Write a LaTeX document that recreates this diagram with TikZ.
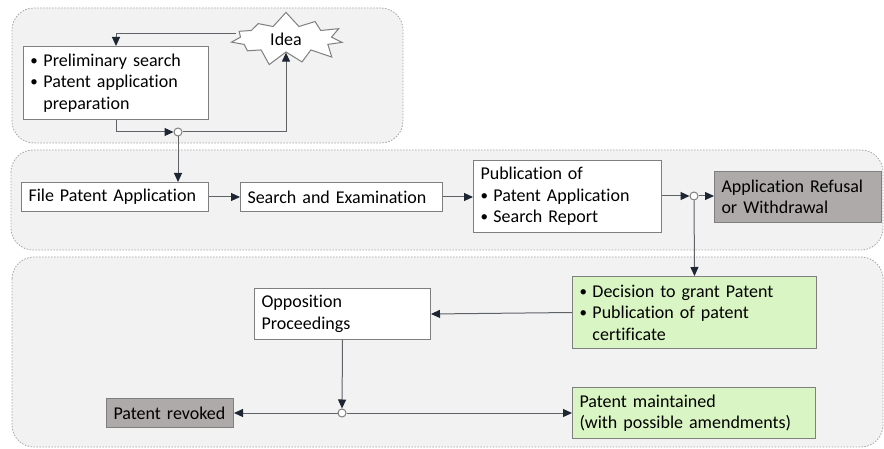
\documentclass[tikz,border=0pt]{standalone}
\usepackage{fontspec}
\setmainfont{Carlito}[Ligatures=NoCommon]
\usetikzlibrary{arrows.meta,shapes.symbols}
\usepackage{xcolor}
\definecolor{panelfill}{HTML}{F2F2F2}
\definecolor{panelline}{HTML}{A6A6A6}
\definecolor{boxline}{HTML}{7F7F7F}
\definecolor{linegray}{HTML}{5F6368}
\definecolor{tipdark}{HTML}{1E2633}
\definecolor{refusegray}{HTML}{AEAAAA}
\definecolor{grantgreen}{HTML}{D9F5C3}

\newcommand{\bul}{\makebox[0.72em][l]{\raisebox{0.8pt}{\fontsize{15}{15}\selectfont\textbullet}}}
\newcommand{\indt}{\hspace*{0.72em}}

\tikzset{
  panel/.style={draw=panelline, fill=panelfill, line width=0.8pt, dash pattern=on 1.5pt off 1.5pt, rounded corners=22pt},
  stepbox/.style={draw=boxline, fill=white, line width=1pt, anchor=north west, align=left, inner xsep=7pt, inner ysep=3pt, font=\fontsize{18}{21.5}\selectfont},
  endbox/.style={stepbox, fill=refusegray},
  grantbox/.style={stepbox, fill=grantgreen},
  junc/.style={circle, draw=boxline, fill=white, line width=1pt, inner sep=0pt, minimum size=8pt},
  arr/.style={draw=linegray, line width=1pt, -{Triangle[length=9pt,width=8pt,color=tipdark]}}
}

\begin{document}
\begin{tikzpicture}[x=1pt,y=-1pt]

\useasboundingbox (0,0) rectangle (884,449);

\draw[panel] (12,8) rectangle (403,143);

\draw[panel] (11,150) rectangle (883,250);

\draw[panel] (12,257) rectangle (883,447);

\node[starburst, draw=boxline, fill=white, line width=1pt, starburst points=11, starburst point height=15pt, minimum width=122pt, minimum height=56pt, inner sep=0pt, random starburst=7, font=\fontsize{18}{21.5}\selectfont] (idea) at (286,39) {Idea};

\node[stepbox, text width=171pt, minimum height=73pt] (prelim) at (23,46)
{\bul Preliminary search\\ \bul Patent application\\ \indt preparation};

\node[junc] (c1) at (178,132) {};

\node[stepbox, text width=173pt, minimum height=29pt] (file) at (21,182) {File Patent Application};

\node[stepbox, text width=188pt, minimum height=29pt] (search) at (240,182) {Search and Examination};

\node[stepbox, text width=174pt, minimum height=72pt] (pub) at (473,160)
{Publication of\\ \bul Patent Application\\ \bul Search Report};

\node[junc] (c2) at (694,196) {};

\node[endbox, text width=153pt, minimum height=51pt] (refusal) at (714,171) {Application Refusal\\ or Withdrawal};

\node[grantbox, text width=230pt, minimum height=72pt] (decision) at (572,276)
{\bul Decision to grant Patent\\ \bul Publication of patent\\ \indt certificate};

\node[stepbox, text width=162pt, minimum height=51pt] (opposition) at (254,288) {Opposition\\ Proceedings};

\node[junc] (c3) at (342,413) {};

\node[endbox, text width=113pt, minimum height=29pt] (revoked) at (106,398) {Patent revoked};

\node[grantbox, text width=229pt, minimum height=51pt] (maintained) at (572,387) {Patent maintained\\ (with possible amendments)};

\draw[arr] ([yshift=5pt]idea.west) -| (prelim.north);

\draw[arr] (prelim.south) |- (c1);

\draw[arr] (c1) -| (idea);

\draw[arr] (c1) -- (c1 |- file.north);

\draw[arr] (file.east) -- (file.east -| search.west);

\draw[arr] (search.east) -- (search.east -| pub.west);

\draw[arr] (pub.east |- c2) -- (c2);

\draw[arr] (c2) -- (c2 -| refusal.west);

\draw[arr] (c2) -- (decision.north);

\draw[arr] (decision.west) -- (opposition.east);

\draw[arr] (opposition.south) -- (c3);

\draw[arr] (c3) -- (c3 -| revoked.east);

\draw[arr] (c3) -- (c3 -| maintained.west);

\end{tikzpicture}
\end{document}
